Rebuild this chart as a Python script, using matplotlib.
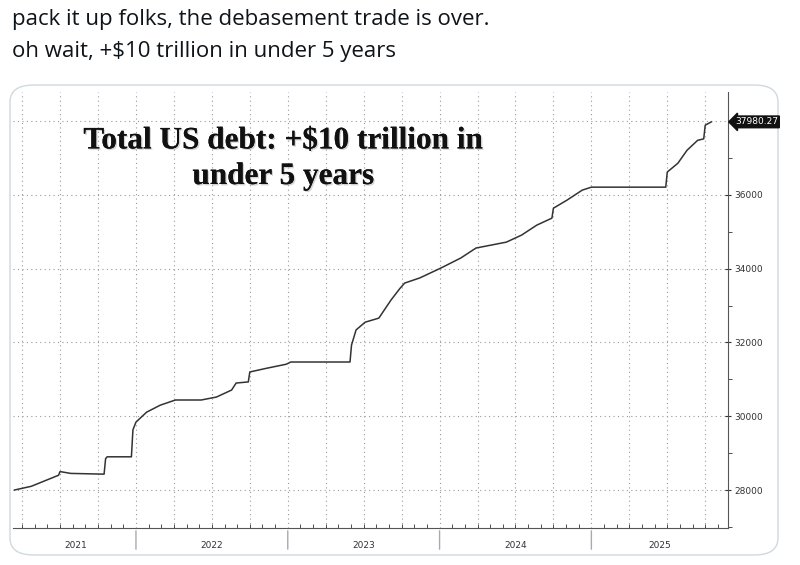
import matplotlib
matplotlib.use("Agg")
import matplotlib.pyplot as plt
from matplotlib.patches import FancyBboxPatch
import matplotlib.patheffects as pe
import numpy as np

# (year fraction, total debt in $bn)
dates = [2021.20, 2021.31, 2021.49, 2021.50, 2021.57, 2021.79, 2021.80, 2021.81, 2021.97, 2021.98,
         2022.00, 2022.07, 2022.16, 2022.26, 2022.43, 2022.53, 2022.63, 2022.66, 2022.74, 2022.75,
         2022.86, 2022.99, 2023.02, 2023.41, 2023.42, 2023.45, 2023.51, 2023.60, 2023.68, 2023.74,
         2023.77, 2023.87, 2024.01, 2024.14, 2024.24, 2024.34, 2024.44, 2024.54, 2024.64, 2024.74,
         2024.75, 2024.84, 2024.94, 2025.00, 2025.49, 2025.50, 2025.57, 2025.63, 2025.70, 2025.74,
         2025.75, 2025.79]
debt = [28000, 28100, 28400, 28500, 28450, 28430, 28850, 28900, 28900, 29630,
        29840, 30110, 30300, 30440, 30440, 30520, 30710, 30900, 30930, 31200,
        31300, 31410, 31470, 31470, 31930, 32340, 32550, 32660, 33150, 33470,
        33610, 33750, 34020, 34290, 34560, 34640, 34720, 34910, 35180, 35370,
        35640, 35860, 36130, 36210, 36210, 36620, 36860, 37210, 37480, 37520,
        37890, 37980.27]
year_labels = ["2021", "2022", "2023", "2024", "2025"]
major_y = [28000, 30000, 32000, 34000, 36000]

fig = plt.figure(figsize=(8, 5.65), dpi=100)
fig.text(12/800, 1-20/565, "pack it up folks, the debasement trade is over.", fontsize=16,
         family="Open Sans", va="center", color="#0f1419")
fig.text(12/800, 1-52/565, "oh wait, +$10 trillion in under 5 years", fontsize=16,
         family="Open Sans", va="center", color="#0f1419")
box = FancyBboxPatch((10/800, 10/565), 768/800, 470/565, boxstyle="round,pad=0,rounding_size=0.03",
                     transform=fig.transFigure, fc="white", ec="#cfd9de", lw=1, zorder=-10)
fig.patches.append(box)

ax = fig.add_axes([13/800, 1-528/565, 715/800, 436/565])
ax.set_facecolor("none")
ax.plot(dates, debt, color="#333333", lw=1.1)
ax.set_xlim(2021.19, 2025.90)
ax.set_ylim(26970, 38790)

for s in ["top", "left"]:
    ax.spines[s].set_visible(False)
ax.spines["right"].set_color("#555555")
ax.spines["bottom"].set_color("#555555")
ax.yaxis.tick_right()
ax.set_yticks(major_y)
ax.set_yticklabels([str(v) for v in major_y], fontsize=6.5, color="#333333")
ax.set_yticks(np.arange(27000, 38001, 1000), minor=True)
ax.tick_params(axis="y", which="major", direction="inout", length=5, pad=2, color="#333333")
ax.tick_params(axis="y", which="minor", direction="out", length=3, color="#333333")
for v in [28000, 30000, 32000, 34000, 36000, 38000]:
    ax.axhline(v, color="#999999", ls=(0, (1, 3)), lw=0.8, zorder=0)
for q in np.arange(2021.25, 2025.9, 0.25):
    ax.axvline(q, color="#999999", ls=(0, (1, 3)), lw=0.8, zorder=0)
ax.set_xticks(np.arange(2021.25, 2025.9, 1/12), minor=True)
ax.set_xticks([2022, 2023, 2024, 2025])
ax.set_xticklabels([])
ax.tick_params(axis="x", which="minor", direction="in", length=3, color="#333333")
ax.tick_params(axis="x", which="major", direction="out", length=0)
for b in [2022, 2023, 2024, 2025]:
    ax.annotate("", xy=(b, 0), xycoords=("data", "axes fraction"), xytext=(b, -0.055),
                textcoords=("data", "axes fraction"),
                arrowprops=dict(arrowstyle="-", color="#aaaaaa", lw=1))
centers = [2021.6, 2022.5, 2023.5, 2024.5, 2025.45]
for c, lab in zip(centers, year_labels):
    ax.text(c, -0.04, lab, transform=ax.get_xaxis_transform(), ha="center", va="center",
            fontsize=6.5, color="#333333")
ax.annotate("37980.27", xy=(1.0, 37980.27), xycoords=("axes fraction", "data"),
            xytext=(5, 0), textcoords="offset points", fontsize=6.5, color="white", va="center",
            bbox=dict(boxstyle="larrow,pad=0.15", fc="#111111", ec="#111111"))
ax.text(0.378, 0.847, "Total US debt: +$10 trillion in\nunder 5 years", transform=ax.transAxes,
        ha="center", va="center", fontsize=22.5, fontweight="bold", family="Liberation Serif",
        color="#111111", linespacing=1.3,
        path_effects=[pe.withSimplePatchShadow(offset=(1, -1), shadow_rgbFace="#aaaaaa", alpha=0.5), pe.Normal()])
fig.savefig("out.png", dpi=100)
